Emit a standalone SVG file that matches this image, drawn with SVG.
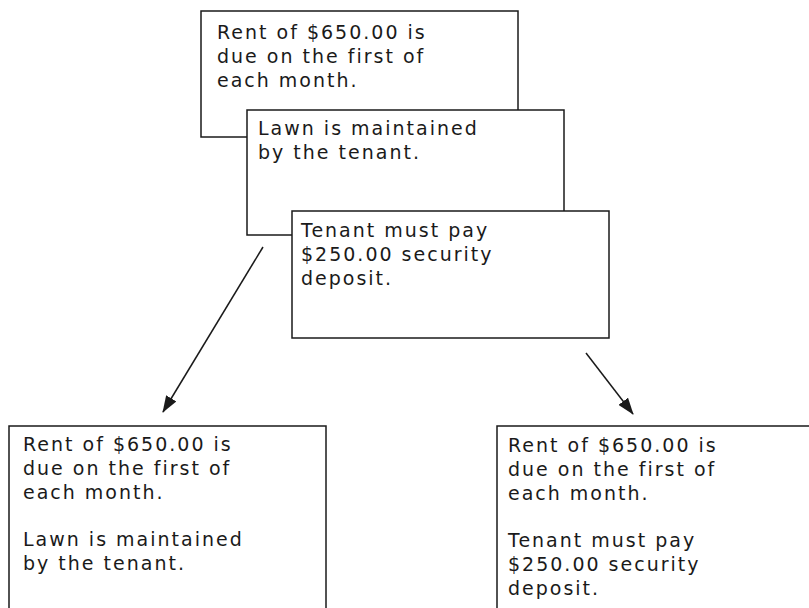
<svg xmlns="http://www.w3.org/2000/svg" width="809" height="608" viewBox="0 0 809 608">
  <style>
    .box { fill: #ffffff; stroke: #1a1a1a; stroke-width: 1.5; }
    .txt { font-family: "DejaVu Sans", "Liberation Sans", sans-serif; font-size: 19px; font-weight: normal; letter-spacing: 2px; fill: #1a1a1a; }
    .conn { stroke: #1a1a1a; stroke-width: 1.5; fill: none; }
  </style>
  <defs>
    <marker id="arrow" markerWidth="17" markerHeight="12" refX="16" refY="6" orient="auto" markerUnits="userSpaceOnUse">
      <path d="M0,0 L17,6 L0,12 Z" fill="#1a1a1a"/>
    </marker>
  </defs>
  <rect width="809" height="608" fill="#ffffff"/>

  <!-- stacked clause cards -->
  <g id="card-rent">
    <rect class="box" x="201" y="11" width="317" height="126"/>
    <text class="txt" x="217" y="39">Rent of $650.00 is</text>
    <text class="txt" x="217" y="63">due on the first of</text>
    <text class="txt" x="217" y="87">each month.</text>
  </g>
  <g id="card-lawn">
    <rect class="box" x="247" y="110" width="317" height="125"/>
    <text class="txt" x="258" y="135">Lawn is maintained</text>
    <text class="txt" x="258" y="159">by the tenant.</text>
  </g>
  <g id="card-deposit">
    <rect class="box" x="292" y="211" width="317" height="127"/>
    <text class="txt" x="301" y="237">Tenant must pay</text>
    <text class="txt" x="301" y="261">$250.00 security</text>
    <text class="txt" x="301" y="285">deposit.</text>
  </g>

  <!-- combined documents -->
  <g id="doc-left">
    <rect class="box" x="9" y="426" width="317" height="200"/>
    <text class="txt" x="23" y="451">Rent of $650.00 is</text>
    <text class="txt" x="23" y="475">due on the first of</text>
    <text class="txt" x="23" y="499">each month.</text>
    <text class="txt" x="23" y="546">Lawn is maintained</text>
    <text class="txt" x="23" y="570">by the tenant.</text>
  </g>
  <g id="doc-right">
    <rect class="box" x="497" y="426" width="330" height="200"/>
    <text class="txt" x="508" y="452">Rent of $650.00 is</text>
    <text class="txt" x="508" y="476">due on the first of</text>
    <text class="txt" x="508" y="500">each month.</text>
    <text class="txt" x="508" y="547">Tenant must pay</text>
    <text class="txt" x="508" y="571">$250.00 security</text>
    <text class="txt" x="508" y="595">deposit.</text>
  </g>

  <g id="connectors">
    <line class="conn" x1="263" y1="247" x2="163" y2="412" marker-end="url(#arrow)"/>
    <line class="conn" x1="586" y1="353" x2="633" y2="414" marker-end="url(#arrow)"/>
  </g>
</svg>
